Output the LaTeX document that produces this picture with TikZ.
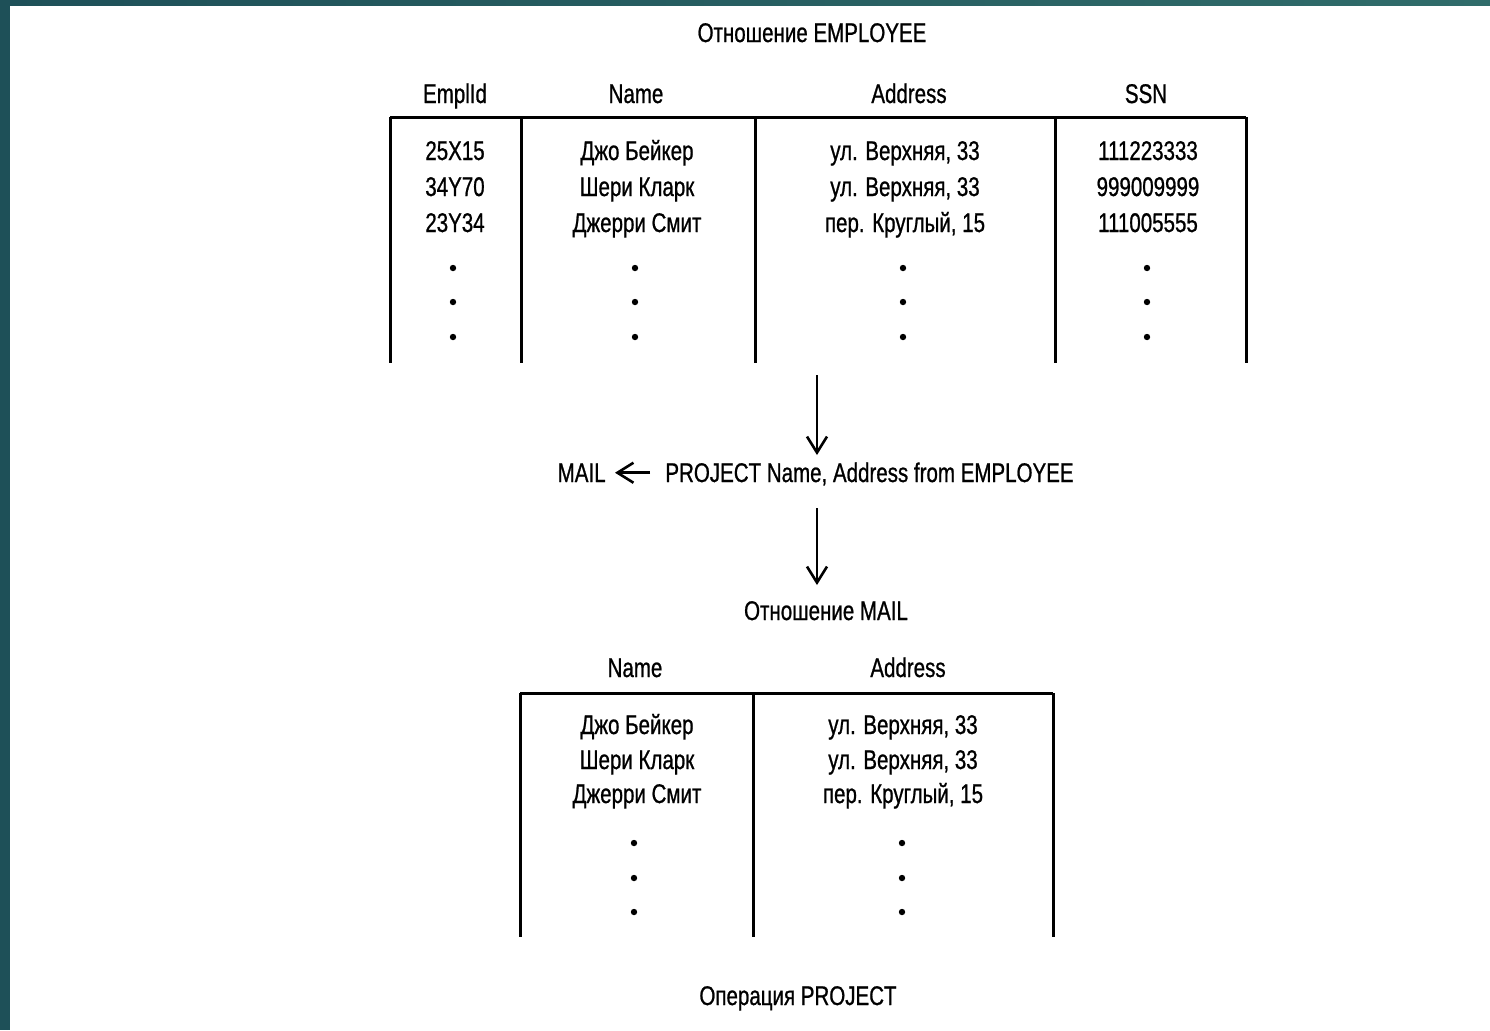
\documentclass[tikz,border=0pt]{standalone}
\usepackage{fontspec}
\setmainfont{Liberation Sans}[FakeStretch=0.76, FakeBold=0.8]
\usepackage{tikz}
\usetikzlibrary{
  arrows.meta,
  calc
}
\definecolor{slideteal}{RGB}{30,80,88}
\definecolor{slidetealr}{RGB}{48,108,106}

\begin{document}
\begin{tikzpicture}[scale=1, x = 0.5pt, y = -0.5pt]
  \tikzset{>={Straight Barb[length=8pt, width=10pt, line width=1.3pt]}}
  \tikzset{
    txt/.style = {inner sep=0pt, anchor=base, font=\fontsize{13.5}{16}\selectfont},
    rule/.style = {line width=1.5pt},
    flow/.style = {->, line width=1.3pt}
  }

  \useasboundingbox (0,0) rectangle (1490,1030);
  \fill[slideteal] (0,0) rectangle (1490,1030);
  \shade[left color=slideteal, right color=slidetealr] (0,0) rectangle (1490,6);
  \fill[white] (10,6) rectangle (1490,1030);

  % relation EMPLOYEE
  \node[txt] (EmployeeTitle) at (812,42) {Отношение EMPLOYEE};
  \node[txt] (EmplIdHead) at (455,103) {EmplId};
  \node[txt] (NameHead) at (636,103) {Name};
  \node[txt] (AddressHead) at (909,103) {Address};
  \node[txt] (SSNHead) at (1146,103) {SSN};

  \draw[rule]
    (390,117) -- (1246,117)
    (390,117) -- (390,363)
    (521,117) -- (521,363)
    (755,117) -- (755,363)
    (1055,117) -- (1055,363)
    (1246,117) -- (1246,363);

  \node[txt] (EmplIdA) at (455,160) {25X15};
  \node[txt] (EmplIdB) at (455,196) {34Y70};
  \node[txt] (EmplIdC) at (455,232) {23Y34};
  \node[txt] (NameA) at (637,160) {Джо Бейкер};
  \node[txt] (NameB) at (637,196) {Шери Кларк};
  \node[txt] (NameC) at (637,232) {Джерри Смит};
  \node[txt] (AddressA) at (905,160) {ул. Верхняя, 33};
  \node[txt] (AddressB) at (905,196) {ул. Верхняя, 33};
  \node[txt] (AddressC) at (905,232) {пер. Круглый, 15};
  \node[txt] (SSNA) at (1148,160) {111223333};
  \node[txt] (SSNB) at (1148,196) {999009999};
  \node[txt] (SSNC) at (1148,232) {111005555};

  \fill
    (453,268) circle[radius=1.6pt] (453,302) circle[radius=1.6pt] (453,337) circle[radius=1.6pt]
    (635,268) circle[radius=1.6pt] (635,302) circle[radius=1.6pt] (635,337) circle[radius=1.6pt]
    (903,268) circle[radius=1.6pt] (903,302) circle[radius=1.6pt] (903,337) circle[radius=1.6pt]
    (1147,268) circle[radius=1.6pt] (1147,302) circle[radius=1.6pt] (1147,337) circle[radius=1.6pt];

  % operation
  \coordinate (EmployeeOut) at (817,375);
  \coordinate (ProjectIn) at (817,455);
  \node[txt, anchor=base west] (ProjectOp) at (665,482) {PROJECT Name, Address from EMPLOYEE};
  \node[txt, anchor=base east] (MailTarget) at (606,482) {MAIL};
  \coordinate (ProjectOut) at (817,508);
  \coordinate (MailIn) at (817,585);

  \draw[flow] (EmployeeOut) -- (ProjectIn);
  \draw[flow, shorten <= 7.5pt, shorten >= 4.5pt] ([yshift=2pt]ProjectOp.mid west) -- ([yshift=2pt]MailTarget.mid east);
  \draw[flow] (ProjectOut) -- (MailIn);

  % relation MAIL
  \node[txt] (MailTitle) at (826,620) {Отношение MAIL};
  \node[txt] (MailNameHead) at (635,677) {Name};
  \node[txt] (MailAddressHead) at (908,677) {Address};

  \draw[rule]
    (520,693) -- (1053,693)
    (520,693) -- (520,937)
    (753,693) -- (753,937)
    (1053,693) -- (1053,937);

  \node[txt] (MailNameA) at (637,734) {Джо Бейкер};
  \node[txt] (MailNameB) at (637,769) {Шери Кларк};
  \node[txt] (MailNameC) at (637,803) {Джерри Смит};
  \node[txt] (MailAddressA) at (903,734) {ул. Верхняя, 33};
  \node[txt] (MailAddressB) at (903,769) {ул. Верхняя, 33};
  \node[txt] (MailAddressC) at (903,803) {пер. Круглый, 15};

  \fill
    (634,843) circle[radius=1.6pt] (634,878) circle[radius=1.6pt] (634,912) circle[radius=1.6pt]
    (902,843) circle[radius=1.6pt] (902,878) circle[radius=1.6pt] (902,912) circle[radius=1.6pt];

  \node[txt] (Caption) at (798,1005) {Операция PROJECT};
\end{tikzpicture}
\end{document}
